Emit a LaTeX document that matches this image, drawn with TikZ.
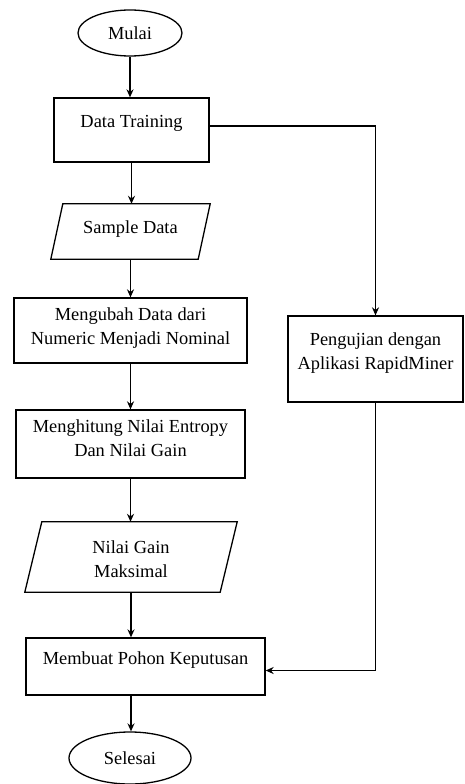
\documentclass[tikz,border=0pt]{standalone}
\usepackage{fontspec}
\setmainfont{Liberation Serif}
\usetikzlibrary{shapes.geometric,arrows.meta,calc}
\begin{document}
\begin{tikzpicture}[x=1pt,y=-1pt,
  shp/.style={draw,line width=1.3pt,inner sep=0pt},
  rbox/.style={shp,rectangle},
  term/.style={shp,ellipse},
  iobox/.style={rectangle,inner sep=0pt},
  ioline/.style={line width=1.3pt,line join=miter},
  lbl/.style={font=\fontsize{18.4}{24}\selectfont,align=center,inner sep=0pt},
  arr/.style={line width=1.3pt,-{Stealth[length=8pt,width=7pt]}}]
\useasboundingbox (0,0) rectangle (465,784);
% shapes
\node[term,minimum width=104pt,minimum height=46pt] (mulai) at (130,33) {};
\node[rbox,minimum width=155pt,minimum height=64pt] (dt) at (131.5,130) {};
\node[iobox,minimum width=159pt,minimum height=55pt] (sd) at (130.5,231.5) {};
\draw[ioline] (sd.south west) -- ([xshift=12pt]sd.north west) -- (sd.north east) -- ([xshift=-12pt]sd.south east) -- cycle;
\node[rbox,minimum width=233pt,minimum height=65pt] (mu) at (130.5,330.5) {};
\node[rbox,minimum width=175pt,minimum height=86pt] (rm) at (375.5,359) {};
\node[rbox,minimum width=229pt,minimum height=68pt] (mh) at (130.5,444) {};
\node[iobox,minimum width=212pt,minimum height=70pt] (ng) at (131,557) {};
\draw[ioline] (ng.south west) -- ([xshift=17pt]ng.north west) -- (ng.north east) -- ([xshift=-17pt]ng.south east) -- cycle;
\node[rbox,minimum width=239pt,minimum height=57pt] (mp) at (145.5,666.5) {};
\node[term,minimum width=122pt,minimum height=52pt] (se) at (130,758) {};
% labels
\node[lbl] (mulaiT) at (130,33) {Mulai};
\node[lbl] (dtT) at (131.5,123) {Data Training};
\node[lbl] (sdT) at (130.5,229) {Sample Data};
\node[lbl] (muT) at (130.5,328) {Mengubah Data dari\\Numeric Menjadi Nominal};
\node[lbl] (rmT) at (375.5,353) {Pengujian dengan\\Aplikasi RapidMiner};
\node[lbl] (mhT) at (130.5,438) {Menghitung Nilai Entropy\\Dan Nilai Gain};
\node[lbl] (ngT) at (131,559) {Nilai Gain\\Maksimal};
\node[lbl] (mpT) at (145.5,660) {Membuat Pohon Keputusan};
\node[lbl] (seT) at (130,758) {Selesai};
% connectors
\draw[arr] (mulai.south) -- (mulai.south |- dt.north);
\draw[arr] (dt.south) -- (dt.south |- sd.north);
\draw[arr] (sd.south) -- (sd.south |- mu.north);
\draw[arr] (mu.south) -- (mu.south |- mh.north);
\draw[arr] (mh.south) -- (mh.south |- ng.north);
\draw[arr] (ng.south) -- (ng.south |- mp.north);
\draw[arr] (ng.south |- mp.south) -- (ng.south |- se.north);
\draw[arr] ([yshift=4pt]dt.east) -| (rm.north);
\draw[arr] (rm.south) |- ([yshift=-4pt]mp.east);
\end{tikzpicture}
\end{document}
